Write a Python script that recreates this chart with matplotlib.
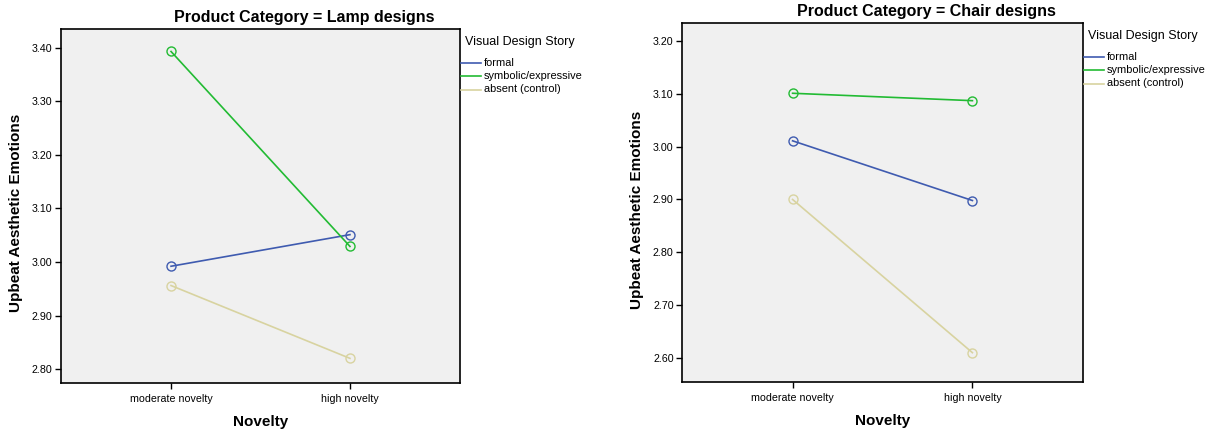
import matplotlib
matplotlib.use("Agg")
import matplotlib.pyplot as plt
from matplotlib.lines import Line2D

plt.rcParams['font.family'] = ['Liberation Sans', 'DejaVu Sans']

categories = ["moderate novelty", "high novelty"]
series_names = ["formal", "symbolic/expressive", "absent (control)"]
colors = ["#3f5bb0", "#22bb33", "#d8d3a0"]

lamp_formal = [2.992, 3.051]
lamp_symbolic = [3.393, 3.029]
lamp_absent = [2.956, 2.820]

chair_formal = [3.011, 2.898]
chair_symbolic = [3.101, 3.087]
chair_absent = [2.900, 2.610]

lamp_ticks = [2.80, 2.90, 3.00, 3.10, 3.20, 3.30, 3.40]
chair_ticks = [2.60, 2.70, 2.80, 2.90, 3.00, 3.10, 3.20]

W, H = 1209, 432
fig = plt.figure(figsize=(W / 100, H / 100), dpi=100)

# pixel boxes: left, top, right, bottom
boxes = [(61, 29, 460, 383), (682, 23, 1083, 382)]
axes = [fig.add_axes([l / W, 1 - b / H, (r - l) / W, (b - t) / H]) for l, t, r, b in boxes]

panels = [
    (axes[0], boxes[0], "Product Category = Lamp designs", [lamp_formal, lamp_symbolic, lamp_absent], lamp_ticks, (2.774, 3.435)),
    (axes[1], boxes[1], "Product Category = Chair designs", [chair_formal, chair_symbolic, chair_absent], chair_ticks, (2.5545, 3.234)),
]

x = list(range(len(categories)))
for ax, box, title, data, ticks, ylim in panels:
    ax.set_facecolor("#f0f0f0")
    for vals, name, c in zip(data, series_names, colors):
        ax.plot(x, vals, color=c, lw=1.2, marker='o', markersize=6.5,
                markerfacecolor='none', markeredgecolor=c, markeredgewidth=1.0, label=name)
    ax.set_xlim(-0.615, 1.615)
    ax.set_ylim(*ylim)
    ax.set_xticks(x)
    ax.set_xticklabels(categories, fontsize=7.7)
    ax.set_yticks(ticks)
    ax.set_yticklabels([f"{t:.2f}" for t in ticks], fontsize=7.7)
    ax.tick_params(axis='both', length=4, width=1, color='black', pad=2)
    ax.tick_params(axis='x', pad=4)
    for s in ax.spines.values():
        s.set_linewidth(1.2)
        s.set_color('black')
    ax.set_title(title, fontsize=11.5, fontweight='bold', pad=5, x=0.61)
    ax.set_xlabel("Novelty", fontsize=11, fontweight='bold', labelpad=8)
    ax.set_ylabel("Upbeat Aesthetic Emotions", fontsize=11, fontweight='bold')
    ax.yaxis.set_label_coords(-0.095, 0.48)

    # legend drawn outside the plot area
    l, t, r, b = box
    fig.text((r + 5) / W, 1 - (t + 13.5) / H, "Visual Design Story", fontsize=9,
             ha='left', va='center')
    for i, (name, c) in enumerate(zip(series_names, colors)):
        yy = 1 - (t + 33.5 + 13.5 * i) / H
        fig.add_artist(Line2D([(r + 1) / W, (r + 21) / W], [yy, yy], color=c, lw=1.2,
                              transform=fig.transFigure))
        fig.text((r + 24) / W, yy, name, fontsize=7.9, ha='left', va='center')

fig.savefig("out.png", dpi=100)
